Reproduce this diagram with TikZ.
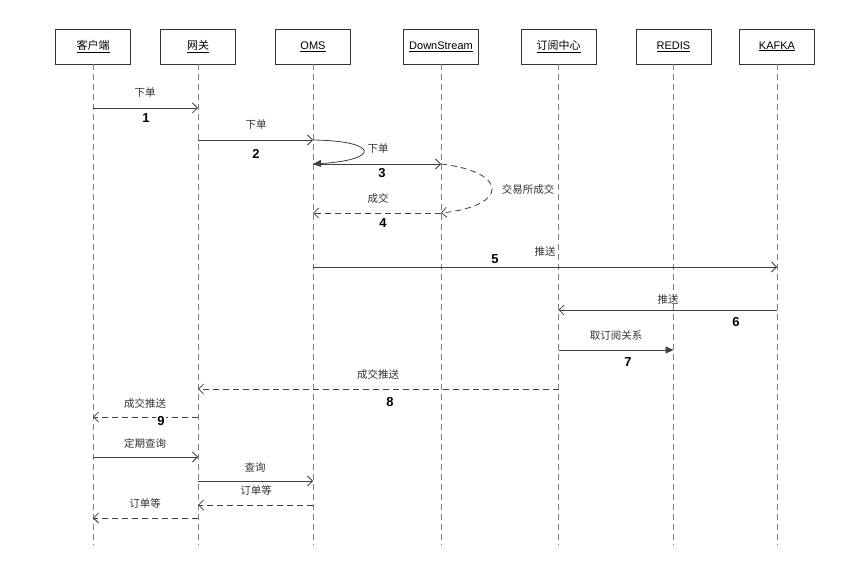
\documentclass[tikz,border=0pt]{standalone}
\usepackage{fontspec}
\setmainfont{Liberation Sans}
\newfontfamily\cjk{Noto Sans CJK SC}
\usetikzlibrary{arrows.meta}
\begin{document}
\begin{tikzpicture}[x=1pt,y=-1pt,
  actor/.style={draw=black!80, line width=0.8pt, minimum width=75pt, minimum height=35pt, inner sep=0pt, fill=white, font=\fontsize{11}{13}\selectfont},
  life/.style={draw=gray, line width=0.9pt, dash pattern=on 6pt off 4pt},
  msg/.style={draw=black!75, line width=0.8pt, -{Straight Barb[length=5pt,width=10pt]}},
  ret/.style={msg, dash pattern=on 6pt off 4pt},
  fmsg/.style={draw=black!75, line width=0.8pt, -{Triangle[length=8pt,width=7pt]}},
  lbl/.style={font=\cjk\fontsize{10.5}{12}\selectfont, text=black!80, inner sep=0pt},
  num/.style={font=\bfseries\fontsize{13}{15}\selectfont, inner sep=0pt}]
\useasboundingbox (0,0) rectangle (860,569);
% actors
\node[actor] (a1) at (93,46.5) {\cjk\underline{客户端}};
\node[actor] (a2) at (198,46.5) {\cjk\underline{网关}};
\node[actor] (a3) at (313,46.5) {\underline{OMS}};
\node[actor] (a4) at (441,46.5) {\underline{DownStream}};
\node[actor] (a5) at (558.5,46.5) {\cjk\underline{订阅中心}};
\node[actor] (a6) at (673.5,46.5) {\underline{REDIS}};
\node[actor] (a7) at (777,46.5) {\underline{KAFKA}};
% lifelines
\foreach \i in {1,...,7}{
  \coordinate (e\i) at (a\i |- 0,545);
  \draw[life] (a\i.south) -- (e\i);
}
% 1
\draw[msg] (a1 |- 0,108) -- (a2 |- 0,108);
\node[lbl] (t1) at (145,93) {下单};
\node[num] (n1) at (146,118) {1};
% 2
\draw[msg] (a2 |- 0,140) -- (a3 |- 0,140);
\node[lbl] (t2) at (256,125) {下单};
\node[num] (n2) at (256,154) {2};
% loop
\draw[fmsg] (a3 |- 0,140) .. controls (380,141) and (380,160) .. (a3 |- 0,164);
% 3
\draw[msg] (a3 |- 0,164) -- (a4 |- 0,164);
\node[lbl] (t3) at (378,149) {下单};
\node[num] (n3) at (382,173) {3};
% exchange
\draw[ret] (a4 |- 0,164) .. controls (509,172) and (509,206) .. (a4 |- 0,213);
\node[lbl] (tx) at (528,190) {交易所成交};
% 4
\draw[ret] (a4 |- 0,213) -- (a3 |- 0,213);
\node[lbl] (t4) at (378,199) {成交};
\node[num] (n4) at (383,223) {4};
% 5
\draw[msg] (a3 |- 0,267) -- (a7 |- 0,267);
\node[lbl] (t5) at (545,252) {推送};
\node[num] (n5) at (495,259) {5};
% 6
\draw[msg] (a7 |- 0,310) -- (a5 |- 0,310);
\node[lbl] (t6) at (668,300) {推送};
\node[num] (n6) at (736,322) {6};
% 7
\draw[fmsg] (a5 |- 0,350) -- (a6 |- 0,350);
\node[lbl] (t7) at (616,336) {取订阅关系};
\node[num] (n7) at (628,362) {7};
% 8
\draw[ret] (a5 |- 0,389) -- (a2 |- 0,389);
\node[lbl] (t8) at (378,375) {成交推送};
\node[num] (n8) at (390,402) {8};
% 9
\draw[ret] (a2 |- 0,417) -- (a1 |- 0,417);
\node[lbl] (t9) at (145,403) {成交推送};
\node[num,fill=white,inner sep=1pt] (n9) at (161,421) {9};
% queries
\draw[msg] (a1 |- 0,457) -- (a2 |- 0,457);
\node[lbl] (t10) at (145,443) {定期查询};
\draw[msg] (a2 |- 0,481) -- (a3 |- 0,481);
\node[lbl] (t11) at (255,467) {查询};
\draw[ret] (a3 |- 0,505) -- (a2 |- 0,505);
\node[lbl] (t12) at (256,490) {订单等};
\draw[ret] (a2 |- 0,518) -- (a1 |- 0,518);
\node[lbl] (t13) at (145,503) {订单等};
\end{tikzpicture}
\end{document}
